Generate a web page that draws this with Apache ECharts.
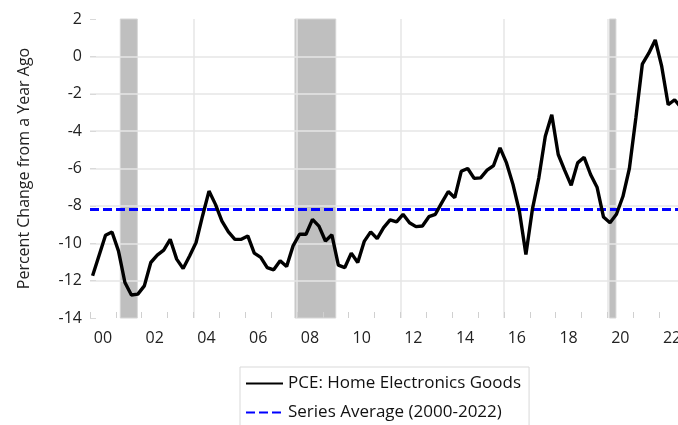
<!DOCTYPE html>
<html lang="en">
<head>
  <meta charset="UTF-8">
  <title>PCE: Home Electronics Goods</title>
  <style>
    html, body { margin: 0; padding: 0; background: #fff; }
    #chart { width: 678px; height: 425px; }
  </style>
</head>
<body>
  <div id="chart"></div>
  <script src="https://cdn.jsdelivr.net/npm/echarts@6/dist/echarts.min.js"></script>
  <script>
    // quarterly percent change from a year ago, 2000Q1 .. 2022Q4
    var firstYear = 2000
    var pceValues = [
      -11.74, -10.65, -9.57, -9.40, -10.41, -12.10, -12.77, -12.72,
      -12.28, -11.03, -10.64, -10.37, -9.79, -10.85, -11.35, -10.68,
      -9.96, -8.54, -7.21, -7.92, -8.81, -9.39, -9.79, -9.79,
      -9.61, -10.53, -10.76, -11.30, -11.42, -10.94, -11.24, -10.14,
      -9.52, -9.52, -8.72, -9.08, -9.88, -9.55, -11.17, -11.30,
      -10.53, -11.03, -9.90, -9.39, -9.75, -9.16, -8.75, -8.86,
      -8.45, -8.90, -9.11, -9.08, -8.58, -8.45, -7.83, -7.23,
      -7.56, -6.15, -6.00, -6.53, -6.50, -6.09, -5.84, -4.90,
      -5.70, -6.85, -8.30, -10.60, -8.19, -6.50, -4.27, -3.12,
      -5.25, -6.10, -6.90, -5.70, -5.40, -6.32, -7.00, -8.60,
      -8.90, -8.45, -7.50, -6.00, -3.30, -0.42, 0.17, 0.88,
      -0.54, -2.59, -2.32, -2.75
    ]
    var seriesAverage = -8.2
    var yearLabels = ['00', '01', '02', '03', '04', '05', '06', '07', '08', '09', '10', '11',
                      '12', '13', '14', '15', '16', '17', '18', '19', '20', '21', '22']
    var recessions = [[2001.17, 2001.83], [2007.92, 2009.5], [2020.08, 2020.33]]

    var pceName = 'PCE: Home Electronics Goods'
    var avgName = 'Series Average (2000-2022)'
    var lastYear = firstYear + yearLabels.length

    var pcePoints = pceValues.map(function (v, i) {
      return [firstYear + i / 4 + 0.1, v]
    })
    var avgPoints = [[firstYear, seriesAverage], [lastYear, seriesAverage]]

    var font = '"Open Sans", sans-serif'
    var chart = echarts.init(document.getElementById('chart'))
    chart.setOption({
      animation: false,
      textStyle: { fontFamily: font },
      // plot runs a little past the right edge of the picture
      grid: { left: 90, width: 595, top: 19, bottom: 107, containLabel: false, outerBoundsMode: 'none' },
      legend: {
        orient: 'vertical',
        left: 240,
        top: 367,
        height: 120,
        data: [pceName, avgName],
        itemWidth: 37,
        itemHeight: 14,
        itemGap: 12,
        padding: [8, 8, 30, 5],
        borderColor: '#d9d9d9',
        borderWidth: 1,
        itemStyle: { opacity: 0 },
        textStyle: { fontSize: 17, color: '#111', fontFamily: font }
      },
      xAxis: [
        { type: 'value', min: firstYear, max: lastYear, show: false },
        {
          type: 'category',
          data: yearLabels,
          boundaryGap: true,
          position: 'bottom',
          axisLine: { show: false },
          axisTick: { show: true, inside: true, length: 6, interval: 0, lineStyle: { color: '#d0d0d0' } },
          axisLabel: { interval: 1, margin: 12, fontSize: 16, color: '#222' },
          splitLine: { show: true, interval: 3, showMinLine: false, lineStyle: { color: '#e6e6e6', width: 1.5 } }
        }
      ],
      yAxis: {
        type: 'value',
        min: -14,
        max: 2,
        interval: 2,
        name: 'Percent Change from a Year Ago',
        nameLocation: 'middle',
        nameGap: 58,
        nameTextStyle: { fontSize: 16, color: '#222' },
        axisLine: { show: false },
        axisTick: { show: true, inside: true, length: 6, lineStyle: { color: '#d9d9d9' } },
        axisLabel: { fontSize: 16, color: '#222', margin: 8 },
        splitLine: { showMinLine: false, showMaxLine: false, lineStyle: { color: '#e6e6e6', width: 1.5 } }
      },
      series: [
        {
          name: 'recessions',
          type: 'line',
          xAxisIndex: 0,
          data: [],
          markArea: {
            silent: true,
            z: -1,
            itemStyle: { color: '#bfbfbf', borderColor: '#d6d6d6', borderWidth: 1 },
            data: recessions.map(function (r) { return [{ xAxis: r[0] }, { xAxis: r[1] }] })
          }
        },
        {
          name: pceName,
          type: 'line',
          xAxisIndex: 0,
          data: pcePoints,
          symbol: 'none',
          lineStyle: { color: '#000', width: 3.4 },
          itemStyle: { color: '#000' },
          z: 4
        },
        {
          name: avgName,
          type: 'line',
          xAxisIndex: 0,
          data: avgPoints,
          symbol: 'none',
          lineStyle: { color: '#0000ff', width: 3, type: [9, 4] },
          itemStyle: { color: '#0000ff' },
          z: 3
        }
      ]
    })
  </script>
</body>
</html>
